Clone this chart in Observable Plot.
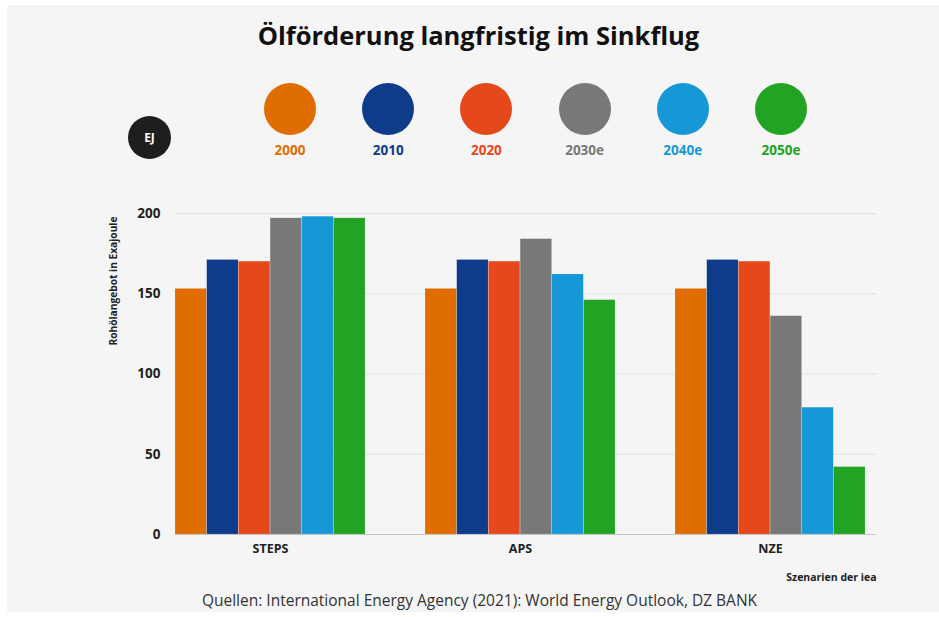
<!DOCTYPE html>
<html><head><meta charset="utf-8">
<script src="https://cdn.jsdelivr.net/npm/d3@7"></script>
<script src="https://cdn.jsdelivr.net/npm/@observablehq/plot@0.6"></script>
<style>
body{margin:0;background:#fff;width:939px;height:617px;position:relative;overflow:hidden;font-family:"Open Sans",sans-serif}
#panel{position:absolute;left:7px;top:5px;width:932px;height:607px;background:#f5f5f5}
.abs{position:absolute}
#title{left:9px;width:939px;top:20px;text-align:center;font-weight:700;font-size:25.5px;line-height:30px;color:#111}
#caption{left:10px;width:939px;top:590px;text-align:center;font-size:15.5px;line-height:20px;color:#333}
.dot{position:absolute;width:52px;height:52px;border-radius:50%}
.lab{position:absolute;width:80px;text-align:center;font-weight:700;font-size:13.5px;line-height:16px}
#ej{left:128px;top:116px;width:43px;height:43px;border-radius:50%;background:#1e1e1e;color:#fff;font-weight:700;font-size:12px;line-height:43px;text-align:center}
#chart{left:0;top:180px}
</style>
</head><body>
<div id="panel"></div>
<div id="title" class="abs">Ölförderung langfristig im Sinkflug</div>
<div id="ej" class="abs">EJ</div>
<div id="legend"></div>
<div id="chart" class="abs"></div>
<div id="caption" class="abs">Quellen: International Energy Agency (2021): World Energy Outlook, DZ BANK</div>
<script>
const scenarios = ["STEPS", "APS", "NZE"];
const years = ["2000", "2010", "2020", "2030e", "2040e", "2050e"];
const colors = ["#e06d00", "#0e3b8a", "#e5481a", "#787878", "#1698d7", "#22a323"];
const stepsValues = [153, 171, 170, 197, 198, 197];
const apsValues = [153, 171, 170, 184, 162, 146];
const nzeValues = [153, 171, 170, 136, 79, 42];
const yTicks = [0, 50, 100, 150, 200];
const yLabel = "Rohölangebot in Exajoule";
const xLabel = "Szenarien der iea";

const series = {STEPS: stepsValues, APS: apsValues, NZE: nzeValues};
const data = scenarios.flatMap(s => years.map((y, i) => ({scenario: s, year: y, value: series[s][i]})));

// legend
const legend = document.getElementById("legend");
const legendCenter0 = 290, legendStep = 98.2;
years.forEach((y, i) => {
  const cx = legendCenter0 + i * legendStep;
  const dot = document.createElement("div");
  dot.className = "dot";
  dot.style.left = (cx - 26) + "px";
  dot.style.top = "83px";
  dot.style.background = colors[i];
  legend.appendChild(dot);
  const lab = document.createElement("div");
  lab.className = "lab";
  lab.style.left = (cx - 40) + "px";
  lab.style.top = "142px";
  lab.style.color = colors[i];
  lab.textContent = y;
  legend.appendChild(lab);
});

const W = 939, ML = 175, MR = 63;
const padIn = 0.24, padOut = 0.02;
const step = (W - ML - MR) / (scenarios.length - padIn + 2 * padOut);
const bandwidth = step * (1 - padIn);
const barW = bandwidth / years.length;

const barMarks = years.map((y, i) =>
  Plot.barY(data.filter(d => d.year === y), {
    x: "scenario", y: "value", fill: "year",
    insetLeft: i * barW, insetRight: (years.length - 1 - i) * barW,
    stroke: "#ffffff", strokeOpacity: 0.2, strokeWidth: 0.6
  })
);

const chart = Plot.plot({
  width: W,
  height: 410,
  marginTop: 33,
  marginBottom: 56,
  marginLeft: ML,
  marginRight: MR,
  style: {background: "transparent", fontFamily: "Open Sans, sans-serif", fontWeight: "700", color: "#222"},
  x: {domain: scenarios, paddingInner: padIn, paddingOuter: padOut, align: 0, label: null},
  y: {domain: [0, 200], label: null},
  color: {domain: years, range: colors},
  marks: [
    Plot.gridY(yTicks.filter(d => d > 0), {stroke: "#e2e2e2", strokeOpacity: 1, strokeWidth: 1}),
    ...barMarks,
    Plot.ruleY([0], {stroke: "#c4c4c4", strokeWidth: 1.2}),
    Plot.axisY(yTicks, {tickSize: 0, tickPadding: 15, label: null, fontSize: 13.5}),
    Plot.axisX({tickSize: 0, tickPadding: 10, label: null, fontSize: 12.5}),
    Plot.text([xLabel], {frameAnchor: "bottom-right", textAnchor: "end", dy: 46, fontSize: 10.5, fill: "#222"}),
    Plot.text([yLabel], {frameAnchor: "top-left", rotate: -90, textAnchor: "end", dx: -66, dy: 3, fontSize: 10.2, fill: "#222"})
  ]
});
document.getElementById("chart").appendChild(chart);
</script>
</body></html>
